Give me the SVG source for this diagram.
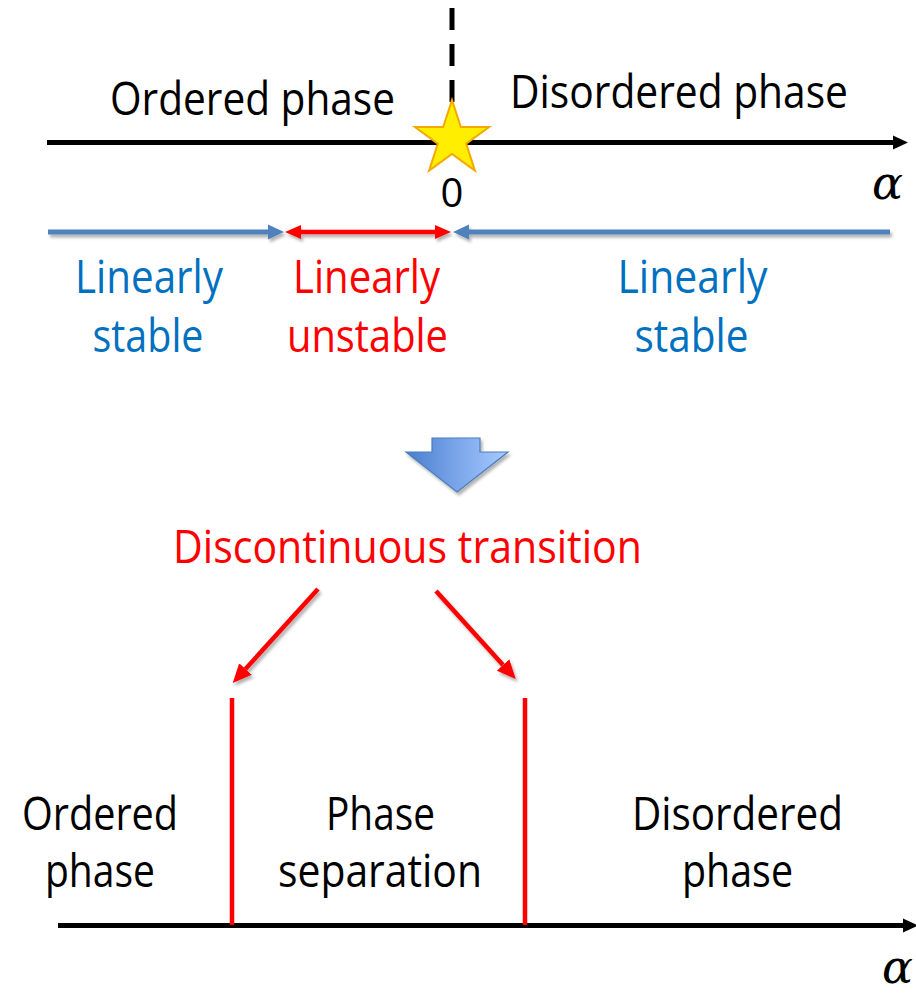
<svg xmlns="http://www.w3.org/2000/svg" width="916" height="993" viewBox="0 0 916 993">
  <style>
    .t { font-family: "Open Sans", "Noto Sans", "Liberation Sans", sans-serif; font-size: 45px; }
    .blk { fill: #000000; }
    .blu { fill: #0070C0; }
    .red { fill: #FF0000; }
    .mid { text-anchor: middle; }
    .sym { font-family: "DejaVu Serif", "Liberation Serif", serif; font-style: italic; font-size: 46px; fill: #000000; }
    .axis { stroke: #000000; stroke-width: 5; fill: none; }
    .bline { stroke: #4F81BD; stroke-width: 5; fill: none; }
    .rline { stroke: #FF0000; stroke-width: 4.5; fill: none; }
  </style>
  <defs>
    <filter id="shadow" x="-10%" y="-50%" width="120%" height="200%">
      <feDropShadow dx="2" dy="3" stdDeviation="1.6" flood-color="#000000" flood-opacity="0.3"/>
    </filter>
    <linearGradient id="blockFill" x1="0" y1="0" x2="1" y2="0">
      <stop offset="0" stop-color="#4A7ECF"/>
      <stop offset="0.55" stop-color="#7FA9EC"/>
      <stop offset="1" stop-color="#A8CBFF"/>
    </linearGradient>
    <marker id="headBlack" markerUnits="userSpaceOnUse" markerWidth="16" markerHeight="16" refX="0" refY="8" orient="auto">
      <path d="M0,1 L15,8 L0,15 z" fill="#000000"/>
    </marker>
    <marker id="headBlue" markerUnits="userSpaceOnUse" markerWidth="17" markerHeight="16" refX="0" refY="8" orient="auto">
      <path d="M0,0.5 L16,8 L0,15.5 z" fill="#4F81BD"/>
    </marker>
    <marker id="headRed" markerUnits="userSpaceOnUse" markerWidth="17" markerHeight="16" refX="0" refY="8" orient="auto">
      <path d="M0,1 L16,8 L0,15 z" fill="#FF0000"/>
    </marker>
    <marker id="headRedStart" markerUnits="userSpaceOnUse" markerWidth="17" markerHeight="16" refX="16" refY="8" orient="auto">
      <path d="M16,1 L0,8 L16,15 z" fill="#FF0000"/>
    </marker>
    <marker id="headRedBig" markerUnits="userSpaceOnUse" markerWidth="20" markerHeight="18" refX="0" refY="9" orient="auto">
      <path d="M0,0.5 L19,9 L0,17.5 z" fill="#FF0000"/>
    </marker>
  </defs>

  <rect x="0" y="0" width="916" height="993" fill="#FFFFFF"/>

  <!-- upper phase axis -->
  <g id="axis-top">
    <line class="axis" x1="47" y1="142.5" x2="893" y2="142.5" marker-end="url(#headBlack)"/>
    <line x1="452" y1="8" x2="452" y2="104" stroke="#000000" stroke-width="5" stroke-dasharray="22 14"/>
    <text class="sym" x="872" y="199">α</text>
  </g>

  <g id="critical-point">
    <polygon points="452,100 460.8,127 489.1,127 466.2,143.6 474.9,170.6 452,153.9 429.1,170.6 437.8,143.6 414.9,127 443.2,127" fill="#FFEE00" stroke="#F2A900" stroke-width="2" stroke-linejoin="miter"/>
    <text class="t blk mid" x="452" y="207" style="font-size:40px">0</text>
  </g>

  <g id="label-ordered-top">
    <text class="t blk" x="110" y="115" textLength="285" lengthAdjust="spacingAndGlyphs">Ordered phase</text>
  </g>
  <g id="label-disordered-top">
    <text class="t blk" x="510" y="108" textLength="338" lengthAdjust="spacingAndGlyphs">Disordered phase</text>
  </g>

  <!-- stability ranges -->
  <g id="stable-left">
    <text class="t blu mid" x="149" y="293" textLength="148" lengthAdjust="spacingAndGlyphs">Linearly</text>
    <text class="t blu mid" x="148" y="352" textLength="111" lengthAdjust="spacingAndGlyphs">stable</text>
  </g>
  <g id="unstable-middle">
    <text class="t red mid" x="366.5" y="293" textLength="147" lengthAdjust="spacingAndGlyphs">Linearly</text>
    <text class="t red mid" x="367.5" y="352" textLength="161" lengthAdjust="spacingAndGlyphs">unstable</text>
  </g>
  <g id="stable-right">
    <text class="t blu mid" x="692.5" y="293" textLength="150" lengthAdjust="spacingAndGlyphs">Linearly</text>
    <text class="t blu mid" x="691.5" y="352" textLength="114" lengthAdjust="spacingAndGlyphs">stable</text>
  </g>

  <g id="block-arrow" filter="url(#shadow)">
    <path d="M432,438 L480,438 L480,452 L508,452 L457,492 L406,452 L432,452 z" fill="url(#blockFill)" stroke="#4A7EBB" stroke-width="1.2"/>
  </g>

  <g id="label-transition">
    <text class="t red mid" x="407.5" y="563" textLength="469" lengthAdjust="spacingAndGlyphs">Discontinuous transition</text>
  </g>

  <!-- lower phase axis -->
  <g id="axis-bottom">
    <line class="axis" x1="58" y1="925.5" x2="903" y2="925.5" marker-end="url(#headBlack)"/>
    <text class="sym" x="882" y="983">α</text>
  </g>

  <g id="boundary-left">
    <line class="rline" x1="232" y1="698" x2="232" y2="925"/>
  </g>
  <g id="boundary-right">
    <line class="rline" x1="525" y1="698" x2="525" y2="925"/>
  </g>

  <g id="label-ordered-bottom">
    <text class="t blk mid" x="100" y="830" textLength="156" lengthAdjust="spacingAndGlyphs">Ordered</text>
    <text class="t blk mid" x="100" y="887" textLength="110" lengthAdjust="spacingAndGlyphs">phase</text>
  </g>
  <g id="label-separation">
    <text class="t blk mid" x="380.5" y="830" textLength="109" lengthAdjust="spacingAndGlyphs">Phase</text>
    <text class="t blk mid" x="380" y="887" textLength="204" lengthAdjust="spacingAndGlyphs">separation</text>
  </g>
  <g id="label-disordered-bottom">
    <text class="t blk mid" x="737.5" y="830" textLength="211" lengthAdjust="spacingAndGlyphs">Disordered</text>
    <text class="t blk mid" x="737.5" y="887" textLength="111" lengthAdjust="spacingAndGlyphs">phase</text>
  </g>

  <!-- connectors -->
  <g id="connectors" filter="url(#shadow)">
    <line class="bline" x1="48" y1="232" x2="268" y2="232" marker-end="url(#headBlue)"/>
    <line class="rline" x1="301" y1="232" x2="435" y2="232" stroke-width="4" marker-start="url(#headRedStart)" marker-end="url(#headRed)"/>
    <line class="bline" x1="890" y1="232" x2="469" y2="232" marker-end="url(#headBlue)"/>
    <line class="rline" x1="318" y1="589" x2="245.5" y2="669" stroke-width="5" marker-end="url(#headRedBig)"/>
    <line class="rline" x1="436" y1="591" x2="503" y2="665" stroke-width="5" marker-end="url(#headRedBig)"/>
  </g>
</svg>
